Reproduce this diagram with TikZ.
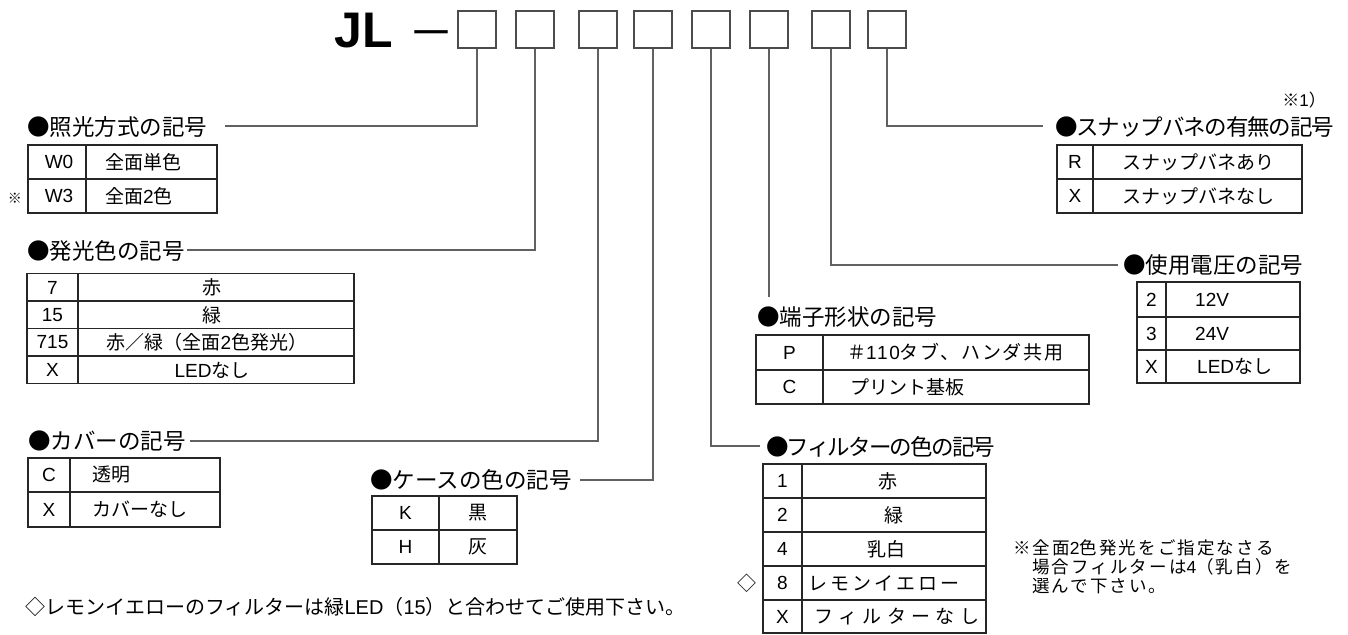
\documentclass[tikz,border=0pt]{standalone}
\usepackage{fontspec}
\setmainfont{Noto Sans CJK JP}
\newfontfamily\lat{Liberation Sans}
\newcommand\lsp[1]{\addfontfeature{LetterSpace=#1}}
\begin{document}
\begin{tikzpicture}[x=1pt,y=-1pt,
  slot/.style={draw=black!70, line width=1.3pt, minimum width=38pt, minimum height=37pt, inner sep=0pt},
  conn/.style={draw=black!62, line width=1.4pt},
  tbl/.style={draw=black!85, line width=1.1pt},
  head/.style={anchor=west, inner sep=0pt, font=\fontsize{22.5}{24}\selectfont},
  cell/.style={inner sep=0pt, font=\fontsize{19}{20}\selectfont},
  cellL/.style={cell, anchor=west},
  note/.style={anchor=west, inner sep=0pt, font=\fontsize{17.5}{19}\selectfont\lsp{12}},
  symb/.style={inner sep=0pt}
]
\useasboundingbox[fill=white] (0,0) rectangle (1348,634);

% title
\node[anchor=base west, inner sep=0pt, font=\lat\bfseries\fontsize{50}{50}\selectfont] (jl) at (334.5,48) {JL};
\node[inner sep=0pt, font=\fontsize{46}{46}\selectfont] (dash) at (431.5,40.5) {－};
\foreach \i/\x in {1/477,2/535,3/598,4/653,5/711,6/769,7/831,8/887}
  \node[slot] (b\i) at (\x,29.5) {};

% headings
\node[head] (h1) at (27,127) {●照光方式の記号};
\node[head] (h2) at (27,251) {●発光色の記号};
\node[head] (h3) at (28,441) {●カバーの記号};
\node[head] (h4) at (370,480) {●ケースの色の記号};
\node[head, font=\fontsize{22.5}{24}\selectfont\lsp{-8}] (h5) at (766,447) {●フィルターの色の記号};
\node[head] (h6) at (757,317) {●端子形状の記号};
\node[head] (h7) at (1123,265) {●使用電圧の記号};
\node[head, font=\fontsize{22.5}{24}\selectfont\lsp{-5}] (h8) at (1055,127) {●スナップバネの有無の記号};

% connector ends
\coordinate (e1) at (225,126);
\coordinate (e2) at (187,250);
\coordinate (e3) at (190,441);
\coordinate (e4) at (580,480);
\coordinate (e5) at (760,446);
\coordinate (e6) at (769,297);
\coordinate (e7) at (1118,265);
\coordinate (e8) at (1043,126);
\draw[conn] (b1.south) |- (e1);
\draw[conn] (b2.south) |- (e2);
\draw[conn] (b3.south) |- (e3);
\draw[conn] (b4.south) |- (e4);
\draw[conn] (b5.south) |- (e5);
\draw[conn] (b6.south) -- (e6);
\draw[conn] (b7.south) |- (e7);
\draw[conn] (b8.south) |- (e8);

% table 1
\draw[tbl] (28,145) rectangle (217,213);
\draw[tbl] (86,145) -- (86,213);
\draw[tbl] (28,179) -- (217,179);
\node[cell] (t1a) at (59,162) {\lat W0};
\node[cellL] (t1b) at (105,162) {全面単色};
\node[cell] (t1c) at (59,196) {\lat W3};
\node[cellL] (t1d) at (105,196) {全面{\lat 2}色};
\node[symb, font=\fontsize{14}{14}\selectfont] (t1m) at (15,198) {※};

% table 2
\draw[tbl] (27,273.5) rectangle (354,383.5);
\draw[tbl] (78,273.5) -- (78,383.5);
\draw[tbl] (27,301) -- (354,301);
\draw[tbl] (27,328.5) -- (354,328.5);
\draw[tbl] (27,356) -- (354,356);
\node[cell] (t2a) at (52.5,287.5) {\lat 7};
\node[cell] (t2b) at (212,287.5) {赤};
\node[cell] (t2c) at (52.5,315) {\lat 15};
\node[cell] (t2d) at (212,315) {緑};
\node[cell] (t2e) at (52.5,342.5) {\lat 715};
\node[cell] (t2f) at (207,342.5) {赤／緑（全面{\lat 2}色発光）};
\node[cell] (t2g) at (52.5,370) {\lat X};
\node[cell] (t2h) at (212,370) {{\lat LED}なし};

% table 3
\draw[tbl] (28,458) rectangle (220,527);
\draw[tbl] (70,458) -- (70,527);
\draw[tbl] (28,492) -- (220,492);
\node[cell] (t3a) at (49,475) {\lat C};
\node[cellL] (t3b) at (92,475) {透明};
\node[cell] (t3c) at (49,509.5) {\lat X};
\node[cellL] (t3d) at (92,509.5) {カバーなし};

% table 4
\draw[tbl] (372,496) rectangle (517,564);
\draw[tbl] (439,496) -- (439,564);
\draw[tbl] (372,530) -- (517,530);
\node[cell] (t4a) at (405.5,513) {\lat K};
\node[cell] (t4b) at (478,513) {黒};
\node[cell] (t4c) at (405.5,547) {\lat H};
\node[cell] (t4d) at (478,547) {灰};

% table 5 (filter)
\draw[tbl] (763,464) rectangle (986,633);
\draw[tbl] (802,464) -- (802,633);
\foreach \yy in {498,532,566,600} \draw[tbl] (763,\yy) -- (986,\yy);
\node[cell] (t5a) at (782.5,481) {\lat 1};
\node[cell] (t5b) at (888,481) {赤};
\node[cell] (t5c) at (782.5,515) {\lat 2};
\node[cell] (t5d) at (894,515) {緑};
\node[cell] (t5e) at (782.5,549) {\lat 4};
\node[cell] (t5f) at (886,549) {乳白};
\node[cell] (t5g) at (782.5,583) {\lat 8};
\node[cell, font=\fontsize{19}{20}\selectfont\lsp{16}] (t5h) at (884,583) {レモンイエロー};
\node[cell] (t5i) at (782.5,616.5) {\lat X};
\node[cell, font=\fontsize{19}{20}\selectfont\lsp{28}] (t5j) at (897,616.5) {フィルターなし};
\node[symb, font=\fontsize{19}{19}\selectfont] (t5m) at (747,583) {◇};

% table 6 (terminal)
\draw[tbl] (756,335) rectangle (1089,404);
\draw[tbl] (823,335) -- (823,404);
\draw[tbl] (756,370) -- (1089,370);
\node[cell] (t6a) at (789.5,352.5) {\lat P};
\node[cellL, font=\fontsize{19}{20}\selectfont\lsp{9}] (t6b) at (847,352.5) {＃{\lat\lsp{9}110}タブ、ハンダ共用};
\node[cell] (t6c) at (789.5,387) {\lat C};
\node[cellL] (t6d) at (850,387) {プリント基板};

% table 7 (voltage)
\draw[tbl] (1137,282) rectangle (1300,383);
\draw[tbl] (1166,282) -- (1166,383);
\draw[tbl] (1137,317) -- (1300,317);
\draw[tbl] (1137,350) -- (1300,350);
\node[cell] (t7a) at (1151.5,299.5) {\lat 2};
\node[cellL] (t7b) at (1195,299.5) {\lat 12V};
\node[cell] (t7c) at (1151.5,333.5) {\lat 3};
\node[cellL] (t7d) at (1195,333.5) {\lat 24V};
\node[cell] (t7e) at (1151.5,366.5) {\lat X};
\node[cellL] (t7f) at (1197,366.5) {{\lat LED}なし};

% table 8 (snap)
\draw[tbl] (1057,145) rectangle (1302,213);
\draw[tbl] (1093,145) -- (1093,213);
\draw[tbl] (1057,179) -- (1302,179);
\node[cell] (t8a) at (1075,162) {\lat R};
\node[cellL] (t8b) at (1122,162) {スナップバネあり};
\node[cell] (t8c) at (1075,196) {\lat X};
\node[cellL] (t8d) at (1122,196) {スナップバネなし};
\node[symb, anchor=east, font=\fontsize{17}{17}\selectfont] (r1) at (1326,100) {※{\lat 1}）};

% notes
\node[note] (n1) at (1013,548) {※全面{\lat\lsp{12}2}色発光をご指定なさる};
\node[note] (n2) at (1032,567) {場合フィルターは{\lat\lsp{12}4}（乳白）を};
\node[note] (n3) at (1032,586) {選んで下さい。};
\node[anchor=west, inner sep=0pt, font=\fontsize{20}{21}\selectfont] (fn) at (25,607) {◇レモンイエローのフィルターは緑{\lat LED}（{\lat 15}）と合わせてご使用下さい。};
\end{tikzpicture}
\end{document}
